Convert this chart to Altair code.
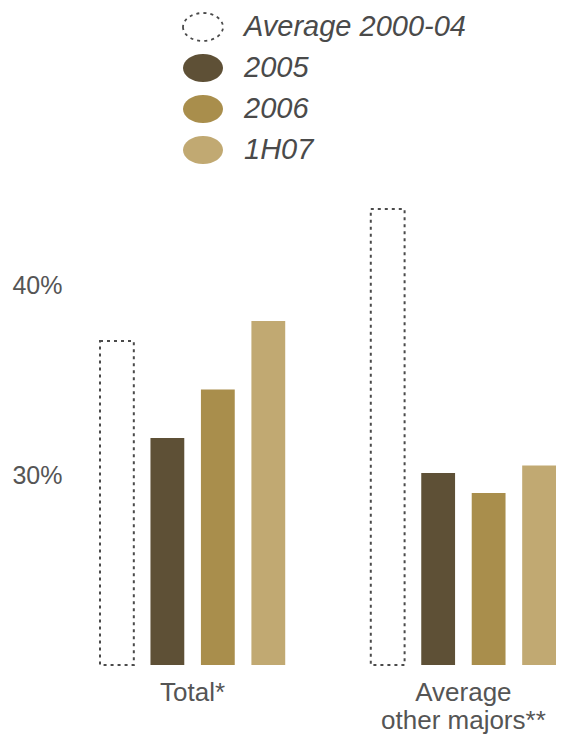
import altair as alt
import pandas as pd

groups = ["Total*", "Average|other majors**"]
series = ["Average 2000-04", "2005", "2006", "1H07"]
total_vals = [37.05, 31.95, 34.5, 38.1]
other_vals = [44.0, 30.1, 29.05, 30.5]
fills = ["transparent", "#5E5036", "#A98E4C", "#C1A972"]
strokes = ["#4a4a4a", "transparent", "transparent", "transparent"]
dashes = [[3, 4], [1, 0], [1, 0], [1, 0]]
y_ticks = [30, 40]

rows = []
for g, vals in zip(groups, [total_vals, other_vals]):
    for s, v in zip(series, vals):
        rows.append({"group": g, "series": s, "value": v})
df = pd.DataFrame(rows)

ellipse = "M-1,0 A1,0.7 0 1,0 1,0 A1,0.7 0 1,0 -1,0 Z"
legend = alt.Legend(
    title=None, orient="none", legendX=82, legendY=-165, padding=0,
    symbolType=ellipse, symbolSize=1600, symbolStrokeWidth=1.8,
    labelFont="Liberation Sans", labelFontSize=29, labelFontStyle="italic",
    labelColor="#4a4a4a", labelOffset=20, rowPadding=2, labelLimit=400,
)

chart = alt.Chart(df).mark_bar(strokeWidth=2).encode(
    x=alt.X("group:N", sort=groups, title=None,
            scale=alt.Scale(paddingInner=0.316, paddingOuter=0),
            axis=alt.Axis(labelAngle=0, ticks=False, domain=False,
                          labelExpr="split(datum.label, '|')",
                          labelFont="Liberation Sans", labelFontSize=26,
                          labelColor="#555555", labelPadding=14,
                          labelLineHeight=28, labelLimit=400)),
    xOffset=alt.XOffset("series:N", sort=series,
                        scale=alt.Scale(paddingInner=0.33, paddingOuter=0)),
    y=alt.Y("value:Q", title=None,
            scale=alt.Scale(domain=[20, 46], zero=False, nice=False),
            axis=alt.Axis(values=y_ticks, labelExpr="datum.value + '%'",
                          grid=False, ticks=False, domain=False,
                          labelFont="Liberation Sans", labelFontSize=25,
                          labelColor="#555555", labelPadding=38)),
    y2=alt.datum(20),
    fill=alt.Fill("series:N", sort=series,
                  scale=alt.Scale(domain=series, range=fills), legend=legend),
    stroke=alt.Stroke("series:N", sort=series,
                      scale=alt.Scale(domain=series, range=strokes), legend=legend),
    strokeDash=alt.StrokeDash("series:N", sort=series,
                              scale=alt.Scale(domain=series, range=dashes), legend=legend),
).properties(
    width=456, height=494,
    padding={"left": 100, "top": 171, "right": 5, "bottom": 70},
    autosize=alt.AutoSizeParams(type="none"),
).configure(background="white").configure_view(stroke=None)

chart.save("out.html", embed_options={"renderer": "svg", "actions": False})
